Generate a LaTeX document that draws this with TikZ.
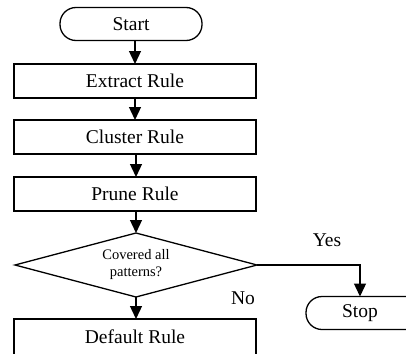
\documentclass[tikz,border=0pt]{standalone}
\usepackage{fontspec}
\setmainfont{Liberation Serif}
\usetikzlibrary{arrows.meta,shapes.geometric}
\begin{document}
\begin{tikzpicture}[x=1pt,y=-1pt,
  every node/.style={inner sep=0pt,outer sep=0pt},
  box/.style={draw,line width=1.3pt,rectangle,minimum width=242pt,minimum height=34pt,font=\fontsize{19.5}{22}\selectfont},
  term/.style={draw,line width=1.3pt,rectangle,rounded corners=16pt,minimum height=33pt,font=\fontsize{19.5}{22}\selectfont},
  decide/.style={draw,line width=1.3pt,diamond,aspect=3.78,minimum width=242pt,minimum height=64pt,font=\fontsize{14.5}{17}\selectfont},
  lbl/.style={font=\fontsize{19.5}{22}\selectfont},
  flow/.style={line width=1.3pt,-{Triangle[length=13pt,width=12pt]}}]
\useasboundingbox (0,0) rectangle (406,353);
\node[term,minimum width=142pt] (start) at (131,24) {Start};
\node[box] (extract) at (135,81) {Extract Rule};
\node[box] (cluster) at (135,137) {Cluster Rule};
\node[box] (prune) at (135,194) {Prune Rule};
\node[decide] (cover) at (136,265) {\raisebox{-5pt}{\begin{tabular}{@{}c@{}}Covered all\\patterns?\end{tabular}}};
\node[box,minimum height=38pt] (default) at (135,338) {\raisebox{2pt}{Default Rule}};
\node[term,minimum width=118pt] (stop) at (365,313) {\hspace*{-10pt}Stop};
\coordinate (turn) at (360,265);
\draw[flow] (start.south -| 135,0) -- (extract.north -| 135,0);
\draw[flow] (extract.south -| 135,0) -- (cluster.north -| 135,0);
\draw[flow] (cluster.south -| 136,0) -- (prune.north -| 136,0);
\draw[flow] (prune.south -| 136,0) -- (cover.north);
\draw[flow] (cover.south) -- (default.north -| cover.south);
\draw[flow] (cover.east) -- (turn) -- (stop.north -| turn);
\node[lbl] (yes) at (327,240) {Yes};
\node[lbl] (no) at (243,298) {No};
\end{tikzpicture}
\end{document}
